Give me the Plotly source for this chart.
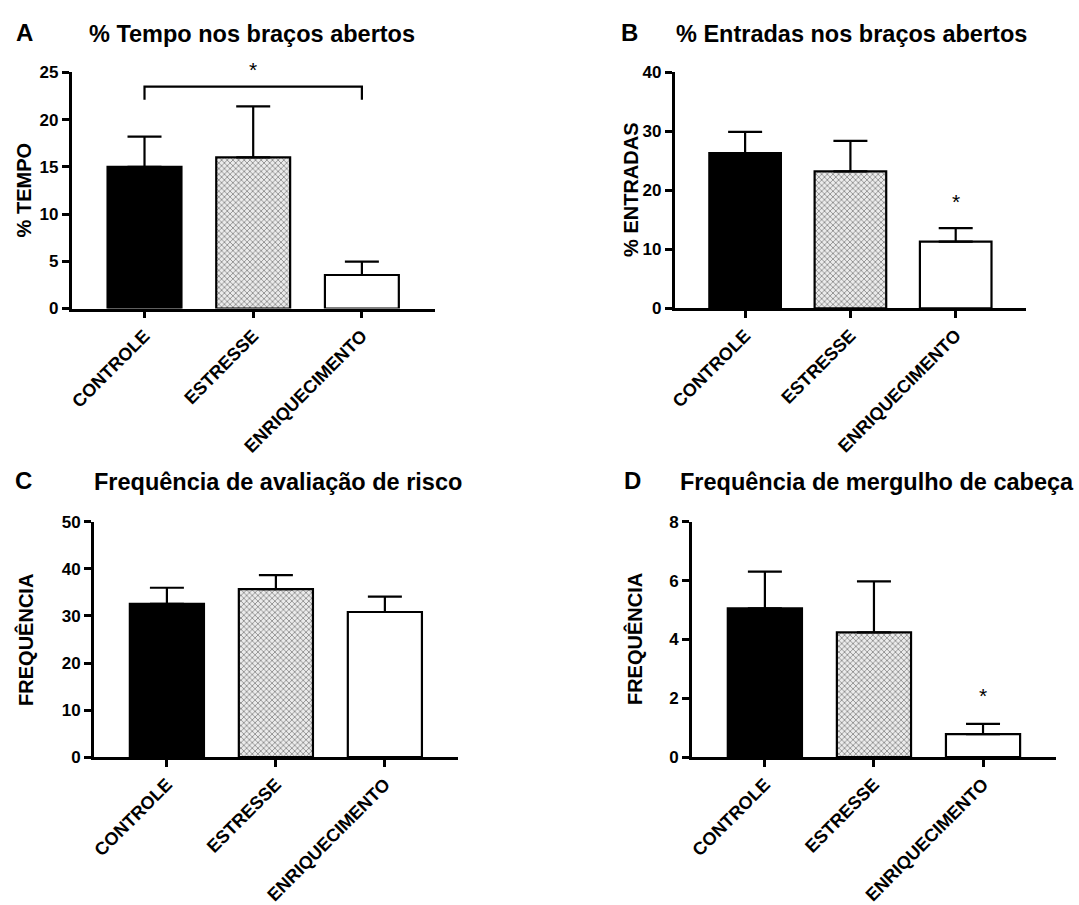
import plotly.graph_objects as go

# ---------------- data ----------------
categories = ["CONTROLE", "ESTRESSE", "ENRIQUECIMENTO"]

tempo_mean = [15.0, 16.0, 3.55]
tempo_sem = [3.2, 5.4, 1.41]

entradas_mean = [26.3, 23.2, 11.3]
entradas_sem = [3.6, 5.2, 2.3]

risco_mean = [32.6, 35.7, 30.85]
risco_sem = [3.4, 3.0, 3.25]

mergulho_mean = [5.06, 4.24, 0.78]
mergulho_sem = [1.25, 1.74, 0.35]

panel_letters = ["A", "B", "C", "D"]
panel_titles = ["% Tempo nos braços abertos", "% Entradas nos braços abertos",
                "Frequência de avaliação de risco", "Frequência de mergulho de cabeça"]
y_titles = ["% TEMPO", "% ENTRADAS", "FREQUÊNCIA", "FREQUÊNCIA"]
y_max = [25, 40, 50, 8]
y_dtick = [5, 10, 10, 2]

# significance marks
bracket_level_a = 23.5
bracket_drop_a = 22.1
star_a_x, star_a_y = 1, 25.3
star_b_x, star_b_y = 2, 18.1
star_d_x, star_d_y = 2, 2.1

# ---------------- layout geometry (pixels) ----------------
W, H = 1079, 905
FONT = "Liberation Sans, Arial, sans-serif"

panels = [
    dict(x0=67, x1=431.7, y0=65, y1=307),
    dict(x0=672.7, x1=1026, y0=65, y1=306.7),
    dict(x0=89.3, x1=455, y0=525.7, y1=766.7),
    dict(x0=690, x1=1056, y0=525.7, y1=766.7),
]
letter_pos = [(20, 24), (627, 24), (19, 483), (630, 483)]
title_pos = [(248, 26), (850, 26), (274, 485), (876, 485)]
ytitle_x = [20, 629.5, 20.5, 632.5]

means = [tempo_mean, entradas_mean, risco_mean, mergulho_mean]
sems = [tempo_sem, entradas_sem, risco_sem, mergulho_sem]
stars = [(star_a_x, star_a_y, 0), (star_b_x, star_b_y, 1), (star_d_x, star_d_y, 3)]

fig = go.Figure()

fills = ["black", "#c4c4c4", "white"]


def axnames(i):
    return ("x" if i == 0 else f"x{i+1}"), ("y" if i == 0 else f"y{i+1}")


for i in range(4):
    xa, ya = axnames(i)
    for j, cat in enumerate(categories):
        marker = dict(color=fills[j], line=dict(color="black", width=2.2))
        if j == 1:
            marker = dict(color="#c4c4c4", line=dict(color="black", width=2.2),
                          pattern=dict(shape="x", size=4, solidity=0.4,
                                       fgcolor="#8f8f8f", bgcolor="#ebebeb",
                                       fillmode="replace"))
        fig.add_trace(go.Bar(
            x=[j], y=[means[i][j]], width=0.68,
            marker=marker,
            error_y=dict(type="data", array=[sems[i][j]], arrayminus=[0],
                         symmetric=False, color="black", thickness=2.2, width=17),
            xaxis=xa, yaxis=ya, showlegend=False, hoverinfo="skip",
        ))

layout = dict(
    width=W, height=H,
    margin=dict(l=0, r=0, t=0, b=0),
    paper_bgcolor="white", plot_bgcolor="white",
    barmode="overlay",
    font=dict(family=FONT, color="black"),
)

annotations = []
shapes = []
for i, p in enumerate(panels):
    sfx = "" if i == 0 else str(i + 1)
    xdom = [p["x0"] / W, p["x1"] / W]
    ydom = [1 - p["y1"] / H, 1 - p["y0"] / H]
    layout["xaxis" + sfx] = dict(
        domain=xdom, range=[-0.67, 2.67], anchor="y" + sfx,
        tickmode="array", tickvals=[0, 1, 2], ticktext=categories,
        tickangle=-45, ticks="outside", ticklen=7, tickwidth=2.5, tickcolor="black",
        showline=True, linewidth=2.5, linecolor="black",
        showgrid=False, zeroline=False,
        tickfont=dict(family=FONT, size=18, color="black", weight="bold"),
        fixedrange=True,
    )
    layout["yaxis" + sfx] = dict(
        domain=ydom, range=[0, y_max[i]], anchor="x" + sfx,
        tickmode="linear", tick0=0, dtick=y_dtick[i],
        ticks="outside", ticklen=7, tickwidth=2.5, tickcolor="black",
        showline=True, linewidth=2.5, linecolor="black",
        showgrid=False, zeroline=False,
        tickfont=dict(family=FONT, size=17, color="black", weight="bold"),
        fixedrange=True,
    )
    lx, ly = letter_pos[i]
    annotations.append(dict(
        text=panel_letters[i], x=lx / W, y=1 - ly / H, xref="paper", yref="paper",
        showarrow=False, xanchor="center", yanchor="middle",
        font=dict(family=FONT, size=24, color="black", weight="bold")))
    tx, ty = title_pos[i]
    annotations.append(dict(
        text=panel_titles[i], x=tx / W, y=1 - ty / H, xref="paper", yref="paper",
        showarrow=False, xanchor="center", yanchor="middle",
        font=dict(family=FONT, size=23.5, color="black", weight="bold")))
    annotations.append(dict(
        text=y_titles[i], x=ytitle_x[i] / W, y=1 - (p["y0"] + p["y1"]) / 2 / H,
        xref="paper", yref="paper", textangle=-90,
        showarrow=False, xanchor="center", yanchor="middle",
        font=dict(family=FONT, size=20, color="black", weight="bold")))

# significance stars (domain-referenced in y so the one above the axis top is not hidden)
for sx, sy, i in stars:
    xa, ya = axnames(i)
    annotations.append(dict(
        text="*", x=sx, y=sy / y_max[i], xref=xa, yref=ya + " domain",
        showarrow=False, xanchor="center", yanchor="middle",
        font=dict(family=FONT, size=21, color="black")))

# significance bracket in panel A
shapes.append(dict(
    type="path", xref="x", yref="y",
    path=f"M 0 {bracket_drop_a} L 0 {bracket_level_a} L 2 {bracket_level_a} L 2 {bracket_drop_a}",
    line=dict(color="black", width=2.2)))

layout["annotations"] = annotations
layout["shapes"] = shapes
fig.update_layout(**layout)

fig.write_html("out.html", config={"displayModeBar": False},
               post_script="document.body.style.margin='0';document.body.style.overflow='hidden';")
